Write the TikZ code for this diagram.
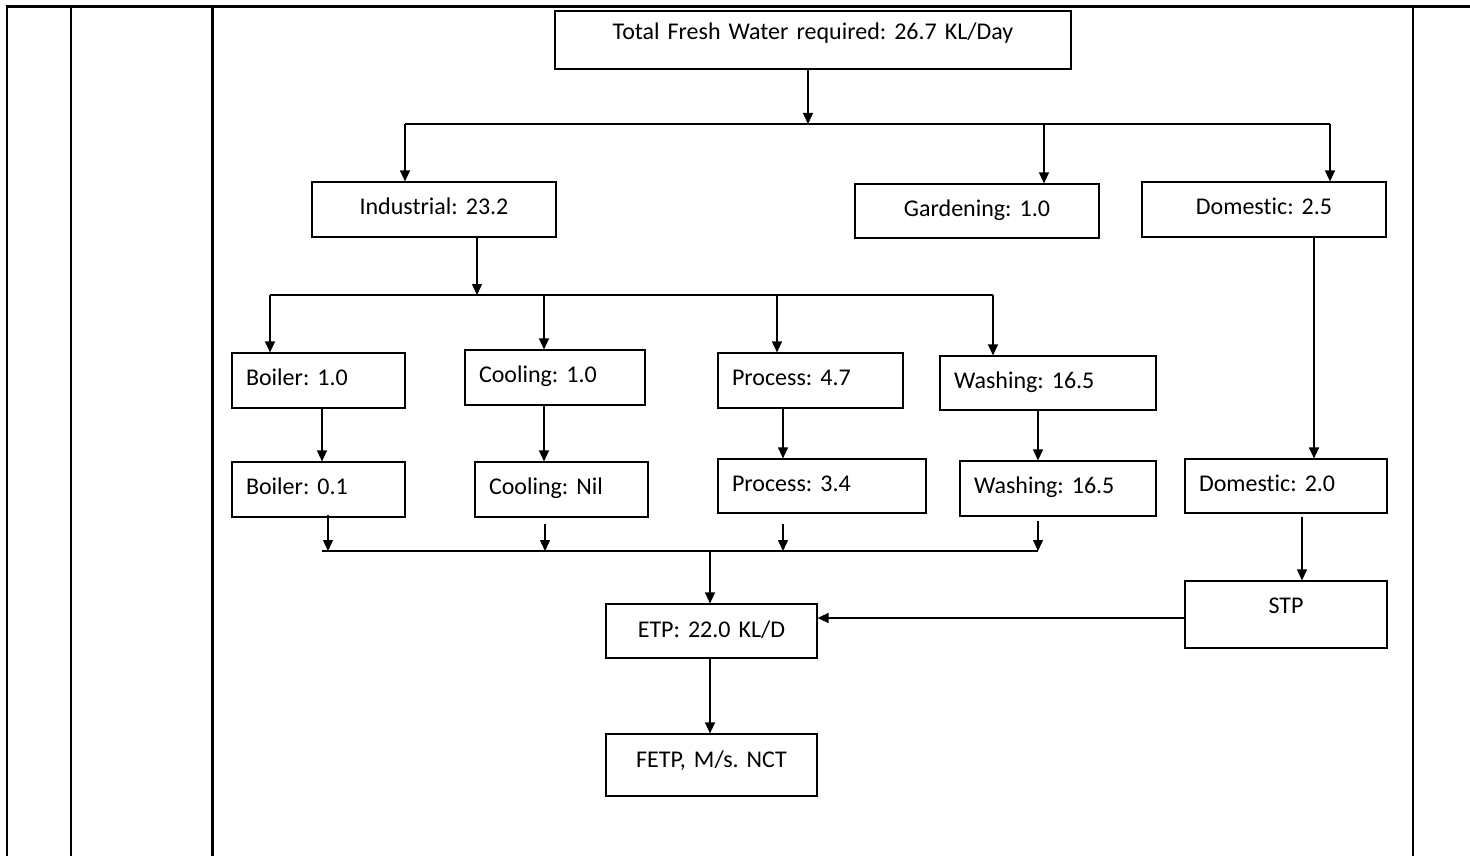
\documentclass[tikz,border=0pt]{standalone}
\usepackage{fontspec}
\setmainfont{Carlito}[Ligatures=NoCommon]
\usetikzlibrary{arrows.meta}
\frenchspacing

\begin{document}
\begin{tikzpicture}[x=1pt,y=-1pt,
  box/.style={draw, line width=1.2pt, inner xsep=14pt, inner ysep=0pt,
    text height=16pt, text depth=6pt, font=\fontsize{24}{28}\selectfont},
  lbox/.style={box, align=left},
  cbox/.style={box, align=center},
  arr/.style={line width=1.3pt, -{Triangle[length=11pt,width=10pt]}},
  bus/.style={line width=1.3pt},
  rule/.style={line width=2.7pt}]

\useasboundingbox (0,0) rectangle (1470,856);

% table frame around the chart
\draw[line width=3pt] (5.6,7) -- (1470,7);
\foreach \x in {7,71,212.5,1413}
  \draw[rule] (\x,7) -- (\x,856);

% top level
\node[cbox, text width=488pt, minimum height=58pt, text depth=16pt] (top) at (813,40)
  {Total Fresh Water required: 26.7 KL/Day};

% consumers
\node[cbox, text width=216pt, minimum height=55pt] (ind)  at (434,209.5)  {Industrial: 23.2};
\node[cbox, text width=216pt, minimum height=54pt] (gard) at (977,211)    {Gardening: 1.0};
\node[cbox, text width=216pt, minimum height=55pt] (dom)  at (1264,209.5) {Domestic: 2.5};

% industrial uses
\node[lbox, text width=145pt, minimum height=55pt] (boil1) at (318.5,380.5) {Boiler: 1.0};
\node[lbox, text width=152pt, minimum height=55pt, text depth=7pt] (cool1) at (555,377.5) {Cooling: 1.0};
\node[lbox, text width=157pt, minimum height=55pt] (proc1) at (810.5,380.5) {Process: 4.7};
\node[lbox, text width=188pt, minimum height=54pt, text depth=5pt] (wash1) at (1048,383) {Washing: 16.5};

% wastewater generated
\node[lbox, text width=145pt, minimum height=55pt] (boil2) at (318.5,489.5) {Boiler: 0.1};
\node[lbox, text width=145pt, minimum height=55pt] (cool2) at (561.5,489.5) {Cooling: Nil};
\node[lbox, text width=180pt, minimum height=54pt] (proc2) at (822,486) {Process: 3.4};
\node[lbox, text width=168pt, minimum height=55pt] (wash2) at (1058,488.5) {Washing: 16.5};
\node[lbox, text width=174pt, minimum height=54pt] (dom2)  at (1286,486) {Domestic: 2.0};

% treatment
\node[cbox, text width=174pt, minimum height=67pt, text depth=19pt] (stp) at (1286,614.5) {STP};
\node[cbox, text width=183pt, minimum height=54pt, text depth=4pt] (etp) at (711.5,631) {ETP: 22.0 KL/D};
\node[cbox, text width=183pt, minimum height=62pt, text depth=12pt] (fetp) at (711.5,765) {FETP, M/s. NCT};

% junction points
\coordinate (j0)  at (808,124);
\coordinate (j0L) at (405,124);
\coordinate (jG)  at (1044,124);
\coordinate (j0R) at (1330,124);
\coordinate (j1)  at (477,295);
\coordinate (j1L) at (270,295);
\coordinate (jC)  at (544,295);
\coordinate (jP)  at (777,295);
\coordinate (j1R) at (993,295);
\coordinate (xB)  at (322,0);
\coordinate (xC)  at (544,0);
\coordinate (xP)  at (783,0);
\coordinate (xW)  at (1038,0);
\coordinate (xB2) at (328,0);
\coordinate (xC2) at (545,0);
\coordinate (k0)  at (710,551);
\coordinate (kL)  at (322,551);
\coordinate (kR)  at (1038,551);
\coordinate (xD)  at (1314,0);
\coordinate (xS)  at (1302,0);
\coordinate (yE)  at (0,618);

% fresh water split
\draw[arr] (top.south -| j0) -- (j0);
\draw[bus] (j0L) -- (j0R);
\draw[arr] (j0L) -- (j0L |- ind.north);
\draw[arr] (jG) -- (jG |- gard.north);
\draw[arr] (j0R) -- (j0R |- dom.north);

% industrial split
\draw[arr] (ind.south -| j1) -- (j1);
\draw[bus] (j1L) -- (j1R);
\draw[arr] (j1L) -- (j1L |- boil1.north);
\draw[arr] (jC) -- (jC |- cool1.north);
\draw[arr] (jP) -- (jP |- proc1.north);
\draw[arr] (j1R) -- (j1R |- wash1.north);

% use to wastewater
\draw[arr] (boil1.south -| xB) -- (boil2.north -| xB);
\draw[arr] (cool1.south -| xC) -- (cool2.north -| xC);
\draw[arr] (proc1.south -| xP) -- (proc2.north -| xP);
\draw[arr] (wash1.south -| xW) -- (wash2.north -| xW);

% wastewater collection
\draw[arr] ([yshift=3pt]boil2.south -| xB2) -- (kL -| xB2);
\draw[arr] ([yshift=-6pt]cool2.south -| xC2) -- (kL -| xC2);
\draw[arr] ([yshift=-10pt]proc2.south -| xP) -- (kL -| xP);
\draw[arr] ([yshift=-4pt]wash2.south -| xW) -- (kL -| xW);
\draw[bus] (kL) -- (kR);
\draw[arr] (k0) -- (k0 |- etp.north);
\draw[arr] (etp.south -| k0) -- (fetp.north -| k0);

% domestic line
\draw[arr] (dom.south -| xD) -- (dom2.north -| xD);
\draw[arr] ([yshift=-3pt]dom2.south -| xS) -- (stp.north -| xS);
\draw[arr] (stp.west |- yE) -- (etp.east |- yE);

\end{tikzpicture}
\end{document}
